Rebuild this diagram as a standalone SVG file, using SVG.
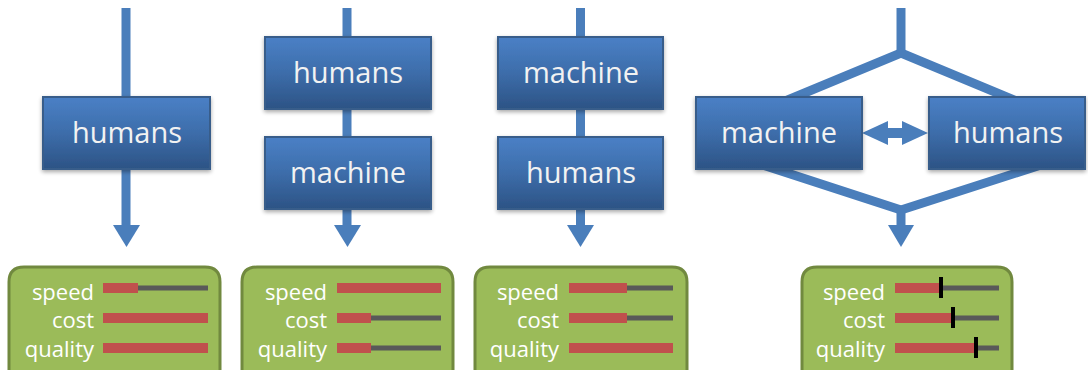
<svg xmlns="http://www.w3.org/2000/svg" width="1088" height="370" viewBox="0 0 1088 370">
<defs>
<linearGradient id="bg" x1="0" y1="0" x2="0" y2="1">
<stop offset="0" stop-color="#4A80C6"/>
<stop offset="0.5" stop-color="#3D6DAA"/>
<stop offset="1" stop-color="#2C5385"/>
</linearGradient>
<filter id="sh" x="-10%" y="-10%" width="130%" height="140%">
<feGaussianBlur in="SourceAlpha" stdDeviation="2"/>
<feOffset dx="0" dy="2"/>
<feComponentTransfer><feFuncA type="linear" slope="0.35"/></feComponentTransfer>
<feMerge><feMergeNode/><feMergeNode in="SourceGraphic"/></feMerge>
</filter>
</defs>
<style>
.ln{stroke:#4A7EBB;stroke-width:9;fill:none}
.ah{fill:#4A7EBB}
.box{fill:url(#bg);stroke:#385D8A;stroke-width:2}
.bt{font-family:"Open Sans","DejaVu Sans",sans-serif;font-size:29px;fill:#F2F2F2;text-anchor:middle}
.gb{fill:#9BBB59;stroke:#71893F;stroke-width:3}
.lb{font-family:"Open Sans","DejaVu Sans",sans-serif;font-size:22px;fill:#FFFFFF;text-anchor:end}
.gr{stroke:#595959;stroke-width:5}
.rd{fill:#C0504D}
.mk{stroke:#000;stroke-width:4}
</style>
<g id="connectors">
<line class="ln" x1="126" y1="8" x2="126" y2="226"/>
<polygon class="ah" points="113,225 140,225 126.5,247"/>
<line class="ln" x1="347" y1="8" x2="347" y2="226"/>
<polygon class="ah" points="334,225 361,225 347.5,247"/>
<line class="ln" x1="580.5" y1="8" x2="580.5" y2="226"/>
<polygon class="ah" points="567,225 594,225 580.5,247"/>
<line class="ln" x1="901" y1="8" x2="901" y2="53"/>
<polyline class="ln" points="778,104 901,53 1024,104" stroke-linejoin="round"/>
<polyline class="ln" points="760,164 901,210 1044,164" stroke-linejoin="round"/>
<line class="ln" x1="901" y1="208" x2="901" y2="226"/>
<polygon class="ah" points="888,225 914,225 901,247"/>
<rect x="886" y="128" width="18" height="10" class="ah"/>
<polygon class="ah" points="862,133 888,121 888,145"/>
<polygon class="ah" points="928,133 902,121 902,145"/>
</g>
<g id="n1">
<rect class="box" x="43" y="97" width="167" height="72" filter="url(#sh)"/>
<text class="bt" x="127" y="143">humans</text>
</g>
<g id="n2a">
<rect class="box" x="265" y="37" width="166" height="72" filter="url(#sh)"/>
<text class="bt" x="348" y="83">humans</text>
</g>
<g id="n2b">
<rect class="box" x="265" y="137" width="166" height="72" filter="url(#sh)"/>
<text class="bt" x="348" y="183">machine</text>
</g>
<g id="n3a">
<rect class="box" x="498" y="37" width="165" height="72" filter="url(#sh)"/>
<text class="bt" x="581" y="83">machine</text>
</g>
<g id="n3b">
<rect class="box" x="498" y="137" width="165" height="72" filter="url(#sh)"/>
<text class="bt" x="581" y="183">humans</text>
</g>
<g id="n4a">
<rect class="box" x="696" y="97" width="166" height="72" filter="url(#sh)"/>
<text class="bt" x="779" y="143">machine</text>
</g>
<g id="n4b">
<rect class="box" x="929" y="97" width="156" height="72" filter="url(#sh)"/>
<text class="bt" x="1008" y="143">humans</text>
</g>
<g id="s1">
<path class="gb" d="M9,375 V282 Q9,267 24,267 H205 Q220,267 220,282 V375 Z"/>
<text class="lb" x="94" y="300">speed</text>
<text class="lb" x="94" y="328">cost</text>
<text class="lb" x="94" y="357">quality</text>
<line class="gr" x1="103" y1="288" x2="208" y2="288"/>
<rect class="rd" x="103" y="283" width="35" height="10"/>
<rect class="rd" x="103" y="313" width="105" height="10"/>
<rect class="rd" x="103" y="343" width="105" height="10"/>
</g>
<g id="s2">
<path class="gb" d="M242,375 V282 Q242,267 257,267 H438 Q453,267 453,282 V375 Z"/>
<text class="lb" x="327" y="300">speed</text>
<text class="lb" x="327" y="328">cost</text>
<text class="lb" x="327" y="357">quality</text>
<line class="gr" x1="337" y1="318" x2="441" y2="318"/>
<line class="gr" x1="337" y1="348" x2="441" y2="348"/>
<rect class="rd" x="337" y="283" width="104" height="10"/>
<rect class="rd" x="337" y="313" width="34" height="10"/>
<rect class="rd" x="337" y="343" width="34" height="10"/>
</g>
<g id="s3">
<path class="gb" d="M475,375 V282 Q475,267 490,267 H672 Q687,267 687,282 V375 Z"/>
<text class="lb" x="559" y="300">speed</text>
<text class="lb" x="559" y="328">cost</text>
<text class="lb" x="559" y="357">quality</text>
<line class="gr" x1="569" y1="288" x2="673" y2="288"/>
<line class="gr" x1="569" y1="318" x2="673" y2="318"/>
<rect class="rd" x="569" y="283" width="58" height="10"/>
<rect class="rd" x="569" y="313" width="58" height="10"/>
<rect class="rd" x="569" y="343" width="104" height="10"/>
</g>
<g id="s4">
<path class="gb" d="M802,375 V282 Q802,267 817,267 H997 Q1012,267 1012,282 V375 Z"/>
<text class="lb" x="885" y="300">speed</text>
<text class="lb" x="885" y="328">cost</text>
<text class="lb" x="885" y="357">quality</text>
<line class="gr" x1="895" y1="288" x2="999" y2="288"/>
<line class="gr" x1="895" y1="318" x2="999" y2="318"/>
<line class="gr" x1="895" y1="348" x2="999" y2="348"/>
<rect class="rd" x="895" y="283" width="46" height="10"/>
<rect class="rd" x="895" y="313" width="58" height="10"/>
<rect class="rd" x="895" y="343" width="81" height="10"/>
<line class="mk" x1="941" y1="277" x2="941" y2="298"/>
<line class="mk" x1="953" y1="307" x2="953" y2="328"/>
<line class="mk" x1="976" y1="337" x2="976" y2="358"/>
</g>
</svg>
